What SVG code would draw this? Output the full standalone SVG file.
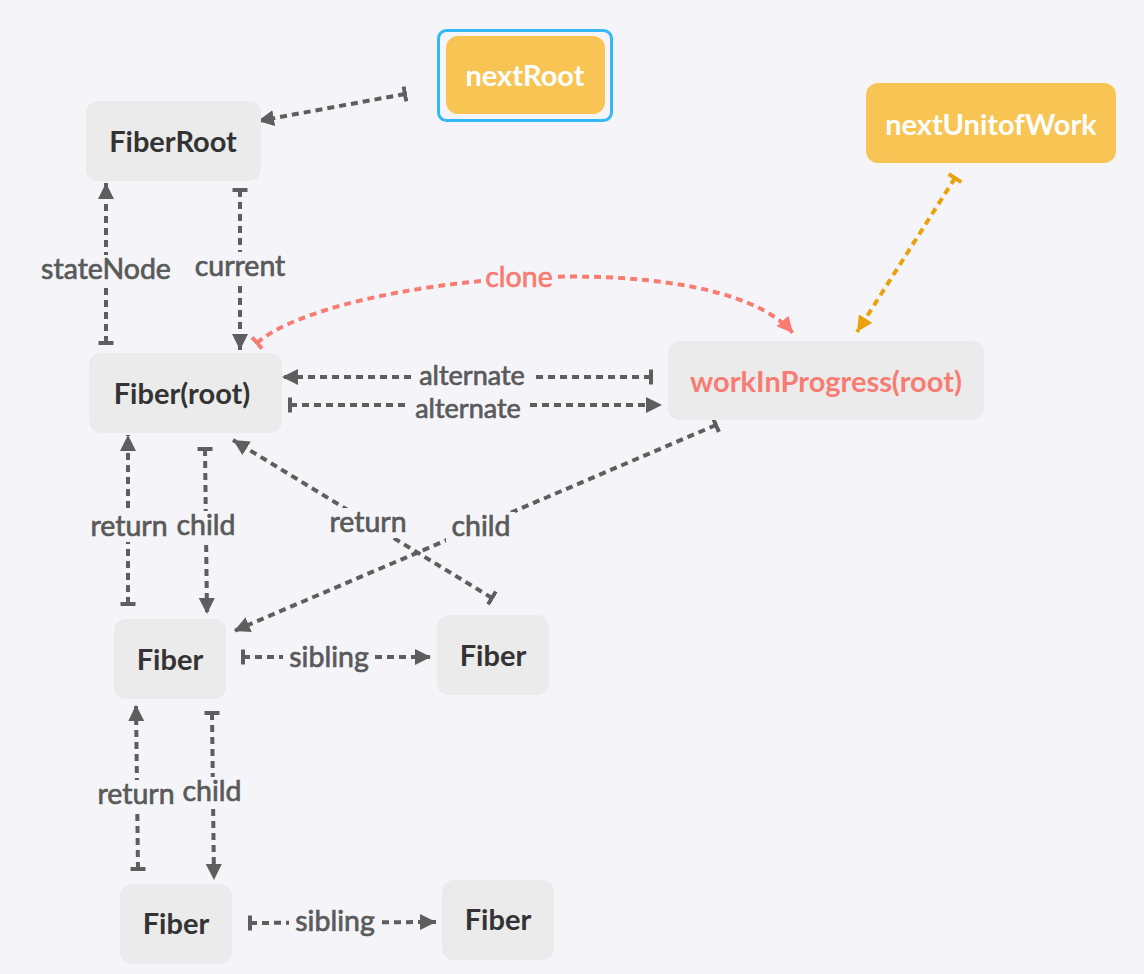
<svg xmlns="http://www.w3.org/2000/svg" width="1144" height="974" viewBox="0 0 1144 974">
<style>
.node{fill:#ebebeb}
.orange{fill:#f8c555}
.nt{font-family:Lato,"Liberation Sans",sans-serif;font-weight:700;font-size:29px;fill:#333;text-anchor:middle;dominant-baseline:central}
.wt{fill:#fff}
.rt{fill:#f87c72}
.c{fill:none;stroke:#5e5e5e;stroke-width:4;stroke-dasharray:7 5}
.cr{stroke:#f87c72}
.co{stroke:#e9a20d}
.bg{fill:#f5f5f9}
.lb{font-family:Lato,"Liberation Sans",sans-serif;font-size:28.5px;fill:#5a5a5a;stroke:#5a5a5a;stroke-width:0.7;text-anchor:middle;dominant-baseline:central}
.la{font-size:27px}
.lr{fill:#f87c72;stroke:#f87c72}
</style>
<defs>
<marker id="ag" markerUnits="userSpaceOnUse" markerWidth="17" markerHeight="16" refX="16" refY="8" orient="auto"><path d="M0,0 L16,8 L0,16 z" fill="#5e5e5e"/></marker>
<marker id="tg" markerUnits="userSpaceOnUse" markerWidth="5" markerHeight="17" refX="2" refY="8.5" orient="auto"><path d="M2,1 V16" stroke="#5e5e5e" stroke-width="4"/></marker>
<marker id="ar" markerUnits="userSpaceOnUse" markerWidth="17" markerHeight="16" refX="16" refY="8" orient="auto"><path d="M0,0 L16,8 L0,16 z" fill="#f87c72"/></marker>
<marker id="tr" markerUnits="userSpaceOnUse" markerWidth="5" markerHeight="17" refX="2" refY="8.5" orient="auto"><path d="M2,1 V16" stroke="#f87c72" stroke-width="4"/></marker>
<marker id="ao" markerUnits="userSpaceOnUse" markerWidth="17" markerHeight="16" refX="16" refY="8" orient="auto"><path d="M0,0 L16,8 L0,16 z" fill="#e9a20d"/></marker>
<marker id="to" markerUnits="userSpaceOnUse" markerWidth="5" markerHeight="17" refX="2" refY="8.5" orient="auto"><path d="M2,1 V16" stroke="#e9a20d" stroke-width="4"/></marker>
</defs>
<rect width="1144" height="974" fill="#f5f5f9"/>

<g id="connectors">
<path class="c" d="M405,94 L258,121" marker-start="url(#tg)" marker-end="url(#ag)"/>
<path class="c" d="M106,343 L106,183" marker-start="url(#tg)" marker-end="url(#ag)"/>
<path class="c" d="M240,190 L240,350" marker-start="url(#tg)" marker-end="url(#ag)"/>
<path class="c cr" d="M257,343 C330,278 710,238 793,333" marker-start="url(#tr)" marker-end="url(#ar)"/>
<path class="c" d="M651,377 L282,377" marker-start="url(#tg)" marker-end="url(#ag)"/>
<path class="c" d="M290,405 L662,405" marker-start="url(#tg)" marker-end="url(#ag)"/>
<path class="c co" d="M955,178 L857,332" marker-start="url(#to)" marker-end="url(#ao)"/>
<path class="c" d="M128,604 L128,435" marker-start="url(#tg)" marker-end="url(#ag)"/>
<path class="c" d="M205,449 L207,614" marker-start="url(#tg)" marker-end="url(#ag)"/>
<path class="c" d="M492,598 L233,440" marker-start="url(#tg)" marker-end="url(#ag)"/>
<path class="c" d="M716,425 L234,631" marker-start="url(#tg)" marker-end="url(#ag)"/>
<path class="c" d="M243,657 L431,657" marker-start="url(#tg)" marker-end="url(#ag)"/>
<path class="c" d="M138,869 L136,705" marker-start="url(#tg)" marker-end="url(#ag)"/>
<path class="c" d="M212,713 L214,880" marker-start="url(#tg)" marker-end="url(#ag)"/>
<path class="c" d="M250,923 L436,922" marker-start="url(#tg)" marker-end="url(#ag)"/>
<rect class="bg" x="36" y="255" width="140" height="30"/>
<rect class="bg" x="191" y="252" width="99" height="30"/>
<rect class="bg" x="481" y="263" width="76" height="30"/>
<rect class="bg" x="411" y="362" width="122" height="28"/>
<rect class="bg" x="406" y="392" width="124" height="28"/>
<rect class="bg" x="87" y="512" width="85" height="30"/>
<rect class="bg" x="172" y="511" width="68" height="30"/>
<rect class="bg" x="326" y="508" width="84" height="30"/>
<rect class="bg" x="446" y="512" width="69" height="30"/>
<rect class="bg" x="283" y="643" width="92" height="30"/>
<rect class="bg" x="94" y="780" width="85" height="30"/>
<rect class="bg" x="178" y="777" width="68" height="30"/>
<rect class="bg" x="289" y="907" width="92" height="30"/>
<text class="lb" x="106" y="268">stateNode</text>
<text class="lb" x="240" y="265">current</text>
<text class="lb lr" x="519" y="276">clone</text>
<text class="lb la" x="472" y="374">alternate</text>
<text class="lb la" x="468" y="407">alternate</text>
<text class="lb" x="129" y="525">return</text>
<text class="lb" x="206" y="524">child</text>
<text class="lb" x="368" y="521">return</text>
<text class="lb" x="481" y="525">child</text>
<text class="lb" x="329" y="656">sibling</text>
<text class="lb" x="136" y="793">return</text>
<text class="lb" x="212" y="790">child</text>
<text class="lb" x="335" y="920">sibling</text>
</g>

<g id="nextRoot">
<rect x="438.5" y="30.5" width="173" height="90" rx="8" fill="none" stroke="#34b9f6" stroke-width="3"/>
<rect class="orange" x="446" y="36" width="159" height="78" rx="12"/>
<text class="nt wt" x="525" y="74">nextRoot</text>
</g>
<g id="FiberRoot">
<rect class="node" x="86" y="101" width="175" height="80" rx="12"/>
<text class="nt" x="173" y="140">FiberRoot</text>
</g>
<g id="nextUnitofWork">
<rect class="orange" x="866" y="83" width="250" height="80" rx="12"/>
<text class="nt wt" x="991" y="123">nextUnitofWork</text>
</g>
<g id="FiberRootFiber">
<rect class="node" x="89" y="353" width="193" height="80" rx="12"/>
<text class="nt" x="182" y="392">Fiber(root)</text>
</g>
<g id="workInProgress">
<rect class="node" x="668" y="341" width="316" height="79" rx="12"/>
<text class="nt rt" x="826" y="380">workInProgress(root)</text>
</g>
<g id="Fiber1">
<rect class="node" x="114" y="619" width="112" height="80" rx="12"/>
<text class="nt" x="170" y="658">Fiber</text>
</g>
<g id="Fiber2">
<rect class="node" x="437" y="615" width="112" height="80" rx="12"/>
<text class="nt" x="493" y="654">Fiber</text>
</g>
<g id="Fiber3">
<rect class="node" x="120" y="884" width="112" height="80" rx="12"/>
<text class="nt" x="176" y="922">Fiber</text>
</g>
<g id="Fiber4">
<rect class="node" x="442" y="880" width="112" height="80" rx="12"/>
<text class="nt" x="498" y="918">Fiber</text>
</g>
</svg>
